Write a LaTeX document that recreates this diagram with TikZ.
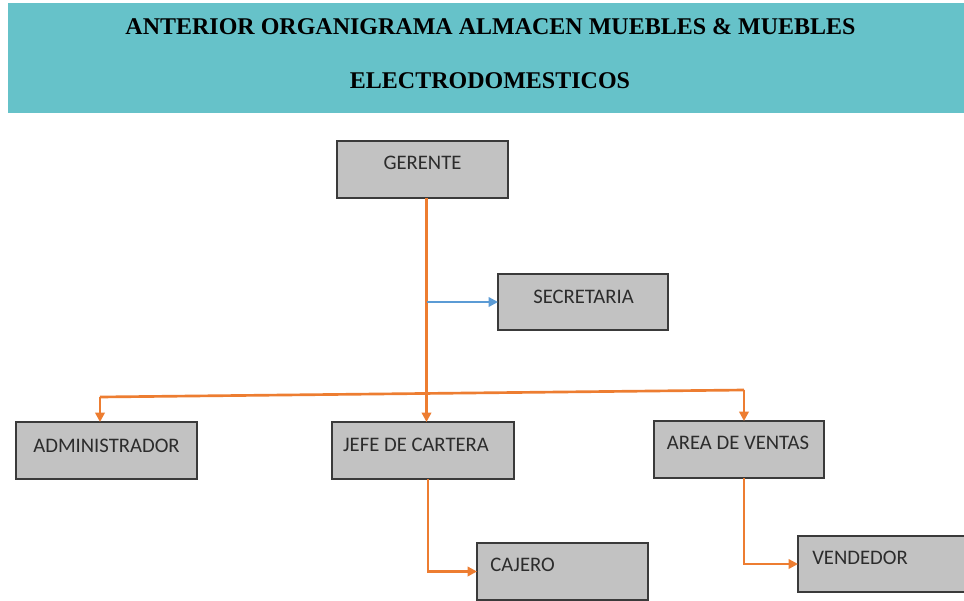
\documentclass[tikz,border=0pt]{standalone}
\usepackage{fontspec}
\setmainfont{Liberation Serif}
\newfontfamily\boxfont{Carlito}
\usetikzlibrary{arrows.meta,calc}
\definecolor{hdrfill}{HTML}{66C2C9}
\definecolor{boxfill}{HTML}{C2C2C2}
\definecolor{boxline}{HTML}{3A3A3A}
\definecolor{boxtext}{HTML}{2C2C2C}
\definecolor{orangeln}{HTML}{ED7D31}
\definecolor{blueln}{HTML}{5B9BD5}
\tikzset{
  orgbox/.style={draw=boxline, fill=boxfill, line width=1.4pt, inner sep=0pt, outer sep=0pt},
  boxlbl/.style={inner sep=0pt, text=boxtext, font=\boxfont\fontsize{15.5}{18}\selectfont},
  titletxt/.style={inner sep=0pt, anchor=base, font=\bfseries\fontsize{18}{21}\selectfont},
  oline/.style={draw=orangeln, line width=2pt},
  oarrow/.style={oline, -{Triangle[length=7pt,width=7pt]}},
  barrow/.style={draw=blueln, line width=2pt, -{Triangle[length=7pt,width=7pt]}}
}
\begin{document}
\begin{tikzpicture}[x=0.75pt,y=-0.75pt]
\clip (0,0) rectangle (964,600);
\fill[white] (0,0) rectangle (964,600);
% header
\fill[hdrfill] (8,3) rectangle (964,113);
\node[titletxt] (t1) at (490.5,34) {ANTERIOR ORGANIGRAMA ALMACEN MUEBLES \& MUEBLES};
\node[titletxt] (t2) at (490,88) {ELECTRODOMESTICOS};
% boxes
\node[orgbox, minimum width={171*0.75pt}, minimum height={57*0.75pt}] (g) at (422.5,169.5) {};
\node[orgbox, minimum width={170*0.75pt}, minimum height={56*0.75pt}] (s) at (583,302) {};
\node[orgbox, minimum width={181*0.75pt}, minimum height={57*0.75pt}] (a) at (106.5,450.5) {};
\node[orgbox, minimum width={182*0.75pt}, minimum height={57*0.75pt}] (j) at (423,450.5) {};
\node[orgbox, minimum width={170*0.75pt}, minimum height={57*0.75pt}] (v) at (739,449.5) {};
\node[orgbox, minimum width={171*0.75pt}, minimum height={57*0.75pt}] (c) at (562.5,571.5) {};
\node[orgbox, minimum width={170*0.75pt}, minimum height={56*0.75pt}] (vd) at (883,564) {};
% labels
\node[boxlbl] (gl) at ($(g.north)+(0,22)$) {GERENTE};
\node[boxlbl] (sl) at ($(s.north)+(0.5,23)$) {SECRETARIA};
\node[boxlbl] (al) at ($(a.north)+(0,24)$) {ADMINISTRADOR};
\node[boxlbl] (jl) at ($(j.north)+(-7,23)$) {JEFE DE CARTERA};
\node[boxlbl] (vl) at ($(v.north)+(-1,22)$) {AREA DE VENTAS};
\node[boxlbl, anchor=west] (cl) at ($(c.north west)+(13,22)$) {CAJERO};
\node[boxlbl, anchor=west] (vdl) at ($(vd.north west)+(14,22)$) {VENDEDOR};
% connectors
\coordinate (top) at ($(g.south)+(4,0)$);
\coordinate (ba) at (100,397);
\coordinate (bv) at (744,390);
\draw[oarrow] (top) -- (top |- j.north);
\draw[barrow] (top |- s.west) -- (s.west);
\draw[oline] (ba) -- (bv);
\draw[oarrow] (ba) -- (ba |- a.north);
\draw[oarrow] (bv) -- (bv |- v.north);
\draw[oarrow] ($(j.south)+(5,0)$) |- (c.west);
\draw[oarrow] ($(v.south)+(5,0)$) |- (vd.west);
\end{tikzpicture}
\end{document}
